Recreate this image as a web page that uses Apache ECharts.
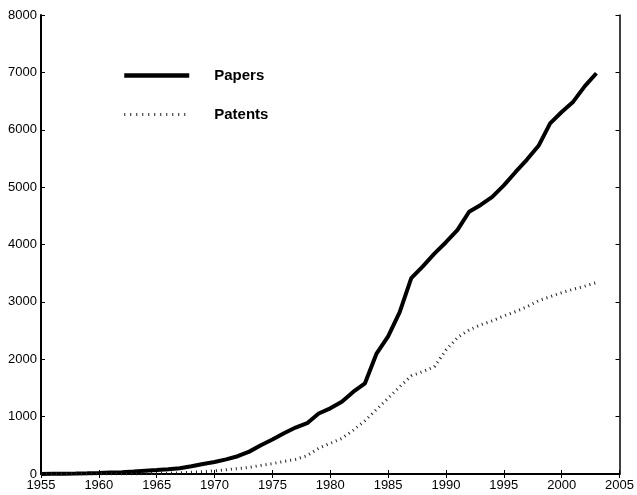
<!DOCTYPE html>
<html>
<head>
<meta charset="utf-8">
<script src="https://cdn.jsdelivr.net/npm/echarts@6/dist/echarts.min.js"></script>
<style>
  html, body { margin: 0; padding: 0; background: #fff; }
  #chart { width: 637px; height: 495px; }
</style>
</head>
<body>
<div id="chart"></div>
<script>
// years 1955 .. 2003
var years = [];
for (var y = 1955; y <= 2003; y++) years.push(y);

var papers = [2, 4, 6, 8, 12, 18, 25, 32, 42, 55,
  68, 82, 100, 135, 175, 210, 255, 310, 390, 500,
  600, 710, 810, 885, 1055, 1145, 1260, 1435, 1580, 2100,
  2400, 2820, 3415, 3620, 3840, 4040, 4255, 4570, 4690, 4830,
  5030, 5260, 5480, 5720, 6110, 6310, 6490, 6760, 6985];

var patents = [0, 0, 0, 0, 0, 0, 0, 0, 0, 5,
  10, 15, 20, 30, 40, 55, 75, 95, 115, 150,
  180, 220, 255, 320, 450, 535, 620, 765, 930, 1125,
  1320, 1520, 1710, 1785, 1870, 2160, 2380, 2510, 2600, 2670,
  2755, 2830, 2915, 3020, 3090, 3160, 3220, 3275, 3335];

function pairs(vals) {
  return years.map(function (yr, i) { return [yr, vals[i]]; });
}

var font = "'Liberation Sans', Arial, Helvetica, sans-serif";
var plain = function (v) { return String(v); }; // no thousands separator
var myChart = echarts.init(document.getElementById("chart"));

var option = {
  backgroundColor: "#ffffff",
  animation: false,
  grid: { left: 41, top: 15, right: 14, bottom: 21, containLabel: false },
  legend: {
    orient: "vertical",
    left: 117,
    top: 63,
    itemWidth: 65,
    itemHeight: 14,
    itemGap: 24,
    itemStyle: { opacity: 0 },
    textStyle: { fontFamily: font, fontSize: 15, fontWeight: "bold", color: "#000", padding: [0, 0, 0, 20] },
    data: [
      { name: "Papers", lineStyle: { width: 4.5, color: "#000" } },
      { name: "Patents", lineStyle: { width: 3, color: "#222", type: [1, 5] } }
    ]
  },
  xAxis: [
    {
      type: "value", min: 1955, max: 2005, interval: 5, position: "bottom",
      axisLine: { show: true, lineStyle: { color: "#000", width: 2 } },
      axisTick: { inside: true, length: 4, lineStyle: { color: "#000" } },
      axisLabel: { color: "#000", fontFamily: font, fontSize: 13, margin: 5, formatter: plain },
      splitLine: { show: false }
    },
    {
      type: "value", min: 1955, max: 2005, interval: 5, position: "top",
      axisLine: { show: true, lineStyle: { color: "#000", width: 1 } },
      axisTick: { inside: true, length: 4, lineStyle: { color: "#000" } },
      axisLabel: { show: false },
      splitLine: { show: false }
    }
  ],
  yAxis: [
    {
      type: "value", min: 0, max: 8000, interval: 1000, position: "left",
      axisLine: { show: true, lineStyle: { color: "#000", width: 2 } },
      axisTick: { show: true, inside: true, length: 4, lineStyle: { color: "#000" } },
      axisLabel: { color: "#000", fontFamily: font, fontSize: 13, margin: 4, formatter: plain },
      splitLine: { show: false }
    },
    {
      type: "value", min: 0, max: 8000, interval: 1000, position: "right",
      axisLine: { show: true, lineStyle: { color: "#000", width: 1.5 } },
      axisTick: { show: true, inside: true, length: 4, lineStyle: { color: "#000" } },
      axisLabel: { show: false },
      splitLine: { show: false }
    }
  ],
  series: [
    {
      name: "Papers",
      type: "line",
      symbol: "none",
      data: pairs(papers),
      lineStyle: { color: "#000", width: 4 },
      itemStyle: { color: "#000" }
    },
    {
      name: "Patents",
      type: "line",
      symbol: "none",
      data: pairs(patents),
      lineStyle: { color: "#222", width: 3, type: [1, 4] },
      itemStyle: { color: "#222" }
    }
  ]
};
myChart.setOption(option);
</script>
</body>
</html>
